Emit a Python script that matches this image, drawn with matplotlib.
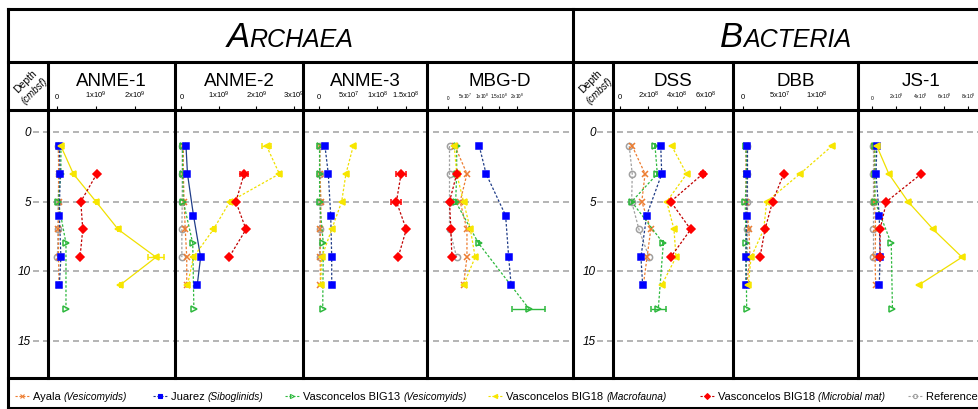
import matplotlib
matplotlib.use("Agg")
import matplotlib.pyplot as plt
from matplotlib.lines import Line2D

plt.rcParams['font.family'] = ['Liberation Sans', 'DejaVu Sans']
plt.rcParams['mathtext.fontset'] = 'custom'
plt.rcParams['mathtext.rm'] = 'Liberation Sans'
plt.rcParams['mathtext.it'] = 'Liberation Sans:italic'

# ---- data: sampling depths (cmbsf) per sample ----
ayala_depth = [1, 3, 5, 7, 9, 11]
juarez_depth = [1, 3, 6, 9, 11]
big13_depth = [1, 3, 5, 8, 12.7]
macro_depth = [1, 3, 5, 7, 9, 11]
mat_depth = [3, 5, 7, 9]
ref_depth = [1, 3, 5, 7, 9]

# ---- gene copies per panel (cm-3), one list per sample ----
anme1 = {
    'ayala': [0.04e9, 0.04e9, 0.04e9, 0.03e9, 0.04e9, 0.05e9],
    'juarez': [0.06e9, 0.08e9, 0.06e9, 0.10e9, 0.06e9],
    'big13': [0.10e9, 0.10e9, 0.03e9, 0.23e9, 0.23e9],
    'macro': [0.10e9, 0.42e9, 1.00e9, 1.57e9, 2.54e9, 1.62e9],
    'mat': [1.02e9, 0.61e9, 0.66e9, 0.59e9],
    'ref': [0.03e9, 0.05e9, 0.03e9, 0.03e9, 0.01e9],
}
anme1_err = {'macro': [0, 0, 0, 0, 0.2e9, 0]}

anme2 = {
    'ayala': [0.05e9, 0.05e9, 0.07e9, 0.10e9, 0.14e9, 0.14e9],
    'juarez': [0.12e9, 0.16e9, 0.32e9, 0.51e9, 0.42e9],
    'big13': [0.03e9, 0.03e9, 0.05e9, 0.30e9, 0.33e9],
    'macro': [2.27e9, 2.61e9, 1.29e9, 0.85e9, 0.32e9, 0.16e9],
    'mat': [1.67e9, 1.45e9, 1.72e9, 1.27e9],
    'ref': [0.02e9, 0.02e9, 0.02e9, 0.01e9, 0.01e9],
}
anme2_err = {'macro': [0.13e9, 0, 0, 0, 0, 0], 'mat': [0.1e9, 0, 0, 0]}

anme3 = {
    'ayala': [0.1e7, 0.1e7, 0.3e7, 0.2e7, 0.15e7, 0.2e7],
    'juarez': [0.98e7, 1.55e7, 1.97e7, 2.14e7, 2.14e7],
    'big13': [0.05e7, 0.05e7, 0.05e7, 0.69e7, 0.59e7],
    'macro': [5.85e7, 4.59e7, 3.86e7, 2.14e7, 0.41e7, 0.24e7],
    'mat': [14.1e7, 13.3e7, 15.0e7, 13.6e7],
    'ref': [0.05e7, 0.05e7, 0.2e7, 0.05e7, 0.05e7],
}
anme3_err = {'mat': [0.86e7, 0.86e7, 0, 0]}

mbgd = {
    'ayala': [2.0e7, 5.5e7, 3.5e7, 5.5e7, 5.5e7, 4.5e7],
    'juarez': [9.1e7, 11.1e7, 16.8e7, 17.7e7, 18.4e7],
    'big13': [2.5e7, 2.5e7, 2.2e7, 8.9e7, 23.6e7],
    'macro': [1.8e7, 2.5e7, 4.5e7, 6.5e7, 7.9e7, 4.5e7],
    'mat': [2.5e7, 0.4e7, 0.8e7, 1.1e7],
    'ref': [0.4e7, 0.4e7, 0.4e7, 0.4e7, 2.5e7],
}
mbgd_err = {'big13': [0, 0, 0, 0, 4.8e7], 'juarez': [0, 0, 0.5e7, 0, 0]}

dss = {
    'ayala': [0.86e8, 1.76e8, 1.53e8, 2.16e8, 1.9e8, 1.64e8],
    'juarez': [2.86e8, 2.93e8, 1.87e8, 1.47e8, 1.59e8],
    'big13': [2.46e8, 2.62e8, 0.82e8, 3.04e8, 2.69e8],
    'macro': [3.63e8, 4.68e8, 3.28e8, 3.79e8, 3.93e8, 2.93e8],
    'mat': [5.81e8, 3.56e8, 4.96e8, 3.56e8],
    'ref': [0.65e8, 0.86e8, 0.82e8, 1.33e8, 2.04e8],
}
dss_err = {'big13': [0, 0, 0, 0, 0.53e8], 'mat': [0.15e8, 0, 0, 0]}

dbb = {
    'ayala': [0.4e7, 0.4e7, 0.4e7, 0.8e7, 0.95e7, 0.5e7],
    'juarez': [0.6e7, 0.6e7, 0.5e7, 0.4e7, 0.4e7],
    'big13': [0.4e7, 0.5e7, 0.3e7, 0.4e7, 0.5e7],
    'macro': [12.0e7, 7.7e7, 3.2e7, 2.8e7, 1.1e7, 0.7e7],
    'mat': [5.5e7, 4.0e7, 2.97e7, 2.3e7],
    'ref': [0.5e7, 0.5e7, 0.5e7, 0.5e7, 0.5e7],
}
dbb_err = {}

js1 = {
    'ayala': [0.2e8, 0.2e8, 0.2e8, 0.3e8, 0.25e8, 0.3e8],
    'juarez': [0.4e8, 0.33e8, 0.6e8, 0.67e8, 0.6e8],
    'big13': [0.25e8, 0.25e8, 0.25e8, 1.6e8, 1.7e8],
    'macro': [0.4e8, 1.4e8, 3.0e8, 5.1e8, 7.5e8, 3.9e8],
    'mat': [4.1e8, 1.2e8, 0.67e8, 0.67e8],
    'ref': [0.1e8, 0.1e8, 0.1e8, 0.1e8, 0.1e8],
}
js1_err = {}

depth_ticks = [0, 5, 10, 15]

# ---- figure in pixel layout ----
W, H = 979, 410
fig = plt.figure(figsize=(W / 100, H / 100), dpi=100)


def fx(x):
    return x / W


def fy(y):
    return 1 - y / H


ROW_TOP, ROW_HEAD, ROW_PLOT, ROW_LEG, ROW_BOT = 10, 63, 111, 379, 409
YLIM = (17.7, -1.6)

# sample styles: key, name, italic note, marker, marker color, line color, mfc
series = [
    ('ref', 'Reference', None, 'o', '#a0a0a0', '#a0a0a0', 'none'),
    ('ayala', 'Ayala', 'Vesicomyids', 'x', '#ed7d31', '#ed7d31', None),
    ('big13', 'Vasconcelos BIG13', 'Vesicomyids', '>', '#2db83d', '#2db83d', 'none'),
    ('juarez', 'Juarez', 'Siboglinids', 's', '#0000ff', '#1f3c88', None),
    ('macro', 'Vasconcelos BIG18', 'Macrofauna', '<', '#f7e600', '#f0e000', None),
    ('mat', 'Vasconcelos BIG18', 'Microbial mat', 'D', '#ff0000', '#c00000', None),
]
depths = {'ayala': ayala_depth, 'juarez': juarez_depth, 'big13': big13_depth,
          'macro': macro_depth, 'mat': mat_depth, 'ref': ref_depth}

# panel: title, data, errors, left px, right px, xlim, ticks, tick labels, tick size
panels = [
    ('ANME-1', anme1, anme1_err, 48, 175, (-0.231e9, 3.026e9),
     [0, 1e9, 2e9], ['0', '1x10$^9$', '2x10$^9$'], 5.5),
    ('ANME-2', anme2, anme2_err, 175, 303, (-0.173e9, 3.24e9),
     [0, 1e9, 2e9, 3e9], ['0', '1x10$^9$', '2x10$^9$', '3x10$^9$'], 5.5),
    ('ANME-3', anme3, anme3_err, 303, 427, (-2.81e7, 18.57e7),
     [0, 5e7, 1e8, 1.5e8], ['0', '5x10$^7$', '1x10$^8$', '1.5x10$^8$'], 5.5),
    ('MBG-D', mbgd, mbgd_err, 427, 573, (-6.18e7, 36.5e7),
     [0, 5e7, 1e8, 1.5e8, 2e8], ['0', '5x10$^7$', '1x10$^8$', '1.5x10$^8$', '2x10$^8$'], 3.4),
    ('DSS', dss, dss_err, 613, 733, (-0.49e8, 7.93e8),
     [0, 2e8, 4e8, 6e8], ['0', '2x10$^8$', '4x10$^8$', '6x10$^8$'], 5.5),
    ('DBB', dbb, dbb_err, 733, 858, (-1.35e7, 15.54e7),
     [0, 5e7, 1e8], ['0', '5x10$^7$', '1x10$^8$'], 5.5),
    ('JS-1', js1, js1_err, 858, 984, (-1.17e8, 9.33e8),
     [0, 2e8, 4e8, 6e8, 8e8], ['0', '2x10$^8$', '4x10$^8$', '6x10$^8$', '8x10$^8$'], 3.6),
]

# background: depth scale and dashed reference lines
bg = fig.add_axes([0, fy(ROW_LEG), 1, (ROW_LEG - ROW_PLOT) / H])
bg.set_xlim(0, W)
bg.set_ylim(*YLIM)
bg.axis('off')
for x0, x1, xl in [(33, 573, 31), (597, W, 596)]:
    bg.hlines(depth_ticks, x0, x1, color='#a8a8a8', lw=1.2, linestyles=[(0, (3.6, 2.4))])
    for d in depth_ticks:
        bg.text(xl, d, str(d), ha='right', va='center', fontsize=8.5, style='italic')

for title, data, errs, left, right, xlim, ticks, labels, tsize in panels:
    ax = fig.add_axes([fx(left), fy(ROW_LEG), fx(right - left), (ROW_LEG - ROW_PLOT) / H])
    ax.patch.set_alpha(0)
    for sp in ax.spines.values():
        sp.set_visible(False)
    ax.set_xlim(*xlim)
    ax.set_ylim(*YLIM)
    ax.set_yticks([])
    ax.xaxis.tick_top()
    ax.set_xticks(ticks)
    ax.set_xticklabels(labels)
    ax.tick_params(axis='x', direction='out', length=3, width=0.8, pad=4, labelsize=tsize)
    for key, name, note, mk, mc, lc, mfc in series:
        ls = '-' if (key == 'juarez' and title == 'ANME-2') else (0, (2, 1.5))
        if key == 'macro' and title in ('ANME-1', 'JS-1'):
            ls = '-'
        ax.errorbar(data[key], depths[key], xerr=errs.get(key), color=lc, lw=0.9, ls=ls,
                    marker=mk, ms=4.5, mfc=mfc if mfc else mc, mec=mc, mew=1.1,
                    ecolor=mc, elinewidth=1, capsize=2.5, clip_on=False)
    fig.text(fx((left + right) / 2), fy(82), title, ha='center', va='center', fontsize=13.5)

# depth column headers
for x in (8, 573):
    fig.text(fx(x + 17), fy(82), 'Depth', rotation=45, ha='center', va='center', fontsize=7.5)
    fig.text(fx(x + 27), fy(91), '(cmbsf)', rotation=45, ha='center', va='center',
             fontsize=7, style='italic')

# small caps group titles
renderer = fig.canvas.get_renderer()
for word, cx in [('Archaea', 290), ('Bacteria', 786)]:
    t1 = fig.text(0, fy(47), word[0].upper(), fontsize=25, style='italic', va='baseline')
    t2 = fig.text(0, fy(47), word[1:].upper(), fontsize=18, style='italic', va='baseline')
    w1 = t1.get_window_extent(renderer).width
    w2 = t2.get_window_extent(renderer).width
    x0 = cx - (w1 + w2) / 2
    t1.set_x(fx(x0))
    t2.set_x(fx(x0 + w1))

# legend row
leg_pos = [22, 160, 292, 495, 707, 915]
leg_order = ['ayala', 'juarez', 'big13', 'macro', 'mat', 'ref']
style = {s[0]: s for s in series}
for key, xm in zip(leg_order, leg_pos):
    _, name, note, mk, mc, lc, mfc = style[key]
    fig.add_artist(Line2D([fx(xm - 7), fx(xm + 7)], [fy(397), fy(397)], color=lc, lw=0.8,
                          ls=(0, (2, 1.5)), transform=fig.transFigure))
    fig.add_artist(Line2D([fx(xm)], [fy(397)], marker=mk, ms=3, color=mc,
                          mfc=mfc if mfc else mc, mec=mc, mew=0.8, transform=fig.transFigure))
    t = fig.text(fx(xm + 11), fy(400.5), name + ' ', fontsize=8, va='baseline')
    if note:
        bb = t.get_window_extent(renderer)
        fig.text(bb.x1 / W, fy(400.5), '(' + note + ')', fontsize=7.3, style='italic',
                 va='baseline')

# thick frame lines
def hline(y, x0, x1):
    fig.add_artist(Line2D([fx(x0), fx(x1)], [fy(y), fy(y)], color='black', lw=2.2,
                          transform=fig.transFigure, solid_capstyle='projecting'))


def vline(x, y0, y1):
    fig.add_artist(Line2D([fx(x), fx(x)], [fy(y0), fy(y1)], color='black', lw=2.2,
                          transform=fig.transFigure, solid_capstyle='projecting'))


for y in (ROW_TOP, ROW_HEAD, ROW_PLOT, ROW_LEG, ROW_BOT):
    hline(y, 8, W + 5)
vline(8, ROW_TOP, ROW_BOT)
vline(573, ROW_TOP, ROW_LEG)
for x in (48, 175, 303, 427, 613, 733, 858):
    vline(x, ROW_HEAD, ROW_LEG)

fig.savefig('out.png', dpi=100)
